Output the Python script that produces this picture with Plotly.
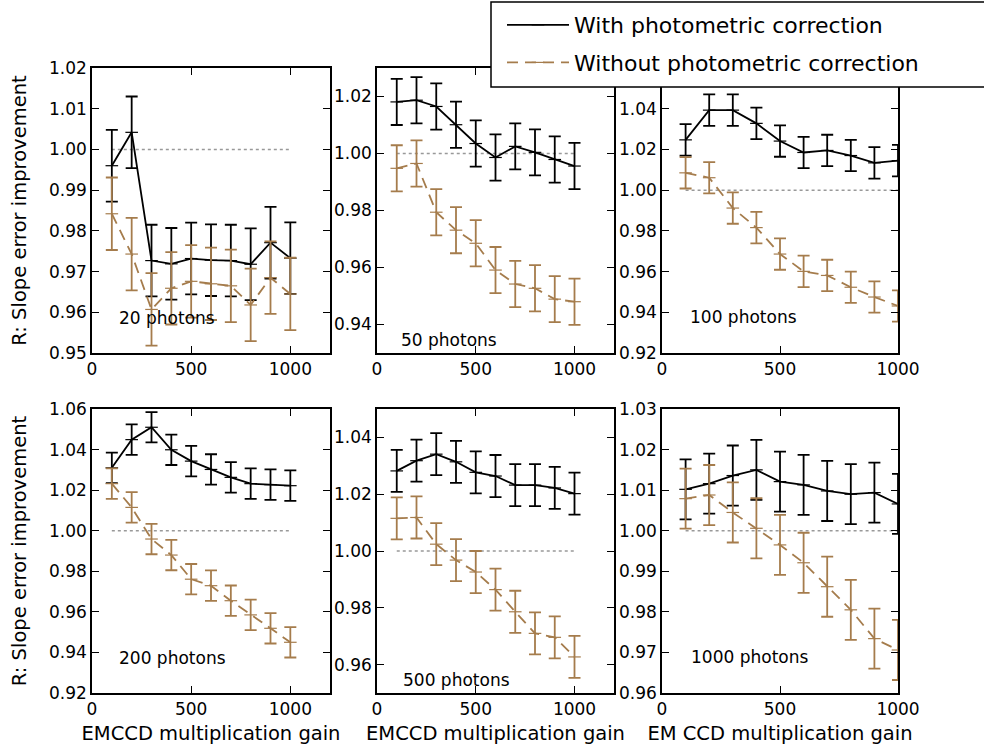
import plotly.graph_objects as go

# ---------------- data ----------------
gain = [100, 200, 300, 400, 500, 600, 700, 800, 900, 1000]

with_20 = [0.9960, 1.0042, 0.9727, 0.9719, 0.9732, 0.9728, 0.9727, 0.9718, 0.9771, 0.9733]
without_20 = [0.9842, 0.9743, 0.9607, 0.9659, 0.9676, 0.9670, 0.9665, 0.9618, 0.9685, 0.9645]
err_with_20 = [0.0088] * 10
err_without_20 = [0.0089] * 10

with_50 = [1.0181, 1.0187, 1.0165, 1.0101, 1.0035, 0.9986, 1.0025, 1.0004, 0.9979, 0.9956]
without_50 = [0.9948, 0.9965, 0.9794, 0.9731, 0.9685, 0.9591, 0.9542, 0.9527, 0.9489, 0.9480]
err_with_50 = [0.0081] * 10
err_without_50 = [0.0081] * 10

with_100 = [1.0247, 1.0393, 1.0393, 1.0328, 1.0241, 1.0185, 1.0195, 1.0170, 1.0134, 1.0145]
without_100 = [1.0085, 1.0061, 0.9912, 0.9816, 0.9686, 0.9601, 0.9581, 0.9523, 0.9475, 0.9431]
err_with_100 = [0.0077] * 10
err_without_100 = [0.0077] * 10

with_200 = [1.0310, 1.0449, 1.0510, 1.0399, 1.0343, 1.0302, 1.0263, 1.0232, 1.0227, 1.0222]
without_200 = [1.0232, 1.0115, 0.9959, 0.9880, 0.9761, 0.9729, 0.9655, 0.9585, 0.9519, 0.9450]
err_with_200 = [0.0075] * 10
err_without_200 = [0.0075] * 10

with_500 = [1.0282, 1.0318, 1.0341, 1.0314, 1.0277, 1.0264, 1.0232, 1.0232, 1.0222, 1.0202]
without_500 = [1.0115, 1.0118, 1.0024, 0.9968, 0.9926, 0.9864, 0.9786, 0.9710, 0.9696, 0.9627]
err_with_500 = [0.0074] * 10
err_without_500 = [0.0074] * 10

with_1000 = [1.0102, 1.0116, 1.0136, 1.0150, 1.0121, 1.0113, 1.0098, 1.0090, 1.0094, 1.0066]
without_1000 = [1.0079, 1.0088, 1.0045, 1.0006, 0.9965, 0.9921, 0.9862, 0.9805, 0.9734, 0.9706]
err_with_1000 = [0.0074] * 10
err_without_1000 = [0.0074] * 10

panel_labels = ["20 photons", "50 photons", "100 photons",
                "200 photons", "500 photons", "1000 photons"]
series_names = ["With photometric correction", "Without photometric correction"]

xticks = [0, 500, 1000]
yticks_20 = [0.95, 0.96, 0.97, 0.98, 0.99, 1.00, 1.01, 1.02]
yticks_50 = [0.94, 0.96, 0.98, 1.00, 1.02]
yticks_100 = [0.92, 0.94, 0.96, 0.98, 1.00, 1.02, 1.04]
yticks_200 = [0.92, 0.94, 0.96, 0.98, 1.00, 1.02, 1.04, 1.06]
yticks_500 = [0.96, 0.98, 1.00, 1.02, 1.04]
yticks_1000 = [0.96, 0.97, 0.98, 0.99, 1.00, 1.01, 1.02, 1.03]

# ---------------- style / layout ----------------
W, H = 984, 747
FONT = "DejaVu Sans"
BLACK = "#000000"
BROWN = "#A57C4C"

with_all = [with_20, with_50, with_100, with_200, with_500, with_1000]
without_all = [without_20, without_50, without_100, without_200, without_500, without_1000]
ew_all = [err_with_20, err_with_50, err_with_100, err_with_200, err_with_500, err_with_1000]
eo_all = [err_without_20, err_without_50, err_without_100, err_without_200, err_without_500, err_without_1000]
yticks_all = [yticks_20, yticks_50, yticks_100, yticks_200, yticks_500, yticks_1000]

xdom_px = [(92, 330), (377, 614), (662, 898)]
ydom_px = [(68, 353), (409, 693)]
xranges = [[0, 1200], [0, 1200], [0, 1000], [0, 1200], [0, 1200], [0, 1000]]
yranges = [[0.95, 1.02], [0.93, 1.03], [0.92, 1.06], [0.92, 1.06], [0.95, 1.05], [0.96, 1.03]]
label_pos = [(126, 0.9586), (111, 0.9346), (110, 0.9377), (126, 0.9374), (120, 0.9546), (114, 0.9689)]
xtitles = [None, None, None, "EMCCD multiplication gain", "EMCCD multiplication gain",
           "EM CCD multiplication gain"]

fig = go.Figure()
layout = dict(
    width=W, height=H, margin=dict(l=0, r=0, t=0, b=0, autoexpand=False),
    paper_bgcolor="white", plot_bgcolor="white",
    font=dict(family=FONT, size=17, color="black"),
    showlegend=True,
)
annotations = []

for i in range(6):
    r, c = divmod(i, 3)
    sfx = "" if i == 0 else str(i + 1)
    xa, ya = "x" + sfx, "y" + sfx
    x0, x1 = xdom_px[c]
    y0, y1 = ydom_px[r]
    axis_common = dict(showline=True, linecolor="black", linewidth=1.5, mirror="ticks",
                       ticks="inside", ticklen=7, tickwidth=1.2, tickcolor="black",
                       showgrid=False, zeroline=False, automargin=False,
                       tickfont=dict(family=FONT, size=17, color="black"))
    xax = dict(axis_common, domain=[x0 / W, x1 / W], range=xranges[i], anchor=ya,
               tickvals=xticks)
    if xtitles[i]:
        xax["title"] = dict(text=xtitles[i], font=dict(family=FONT, size=19.5), standoff=8)
    yax = dict(axis_common, domain=[1 - y1 / H, 1 - y0 / H], range=yranges[i], anchor=xa,
               tickvals=yticks_all[i], tickformat=".2f")
    if c == 0:
        yax["title"] = dict(text="R: Slope error improvement",
                            font=dict(family=FONT, size=19.5), standoff=17)
    layout["xaxis" + sfx] = xax
    layout["yaxis" + sfx] = yax

    # reference line at R = 1
    fig.add_trace(go.Scatter(x=[gain[0], gain[-1]], y=[1.0, 1.0], mode="lines",
                             line=dict(color="#999999", width=1.5, dash="dot"),
                             xaxis=xa, yaxis=ya, showlegend=False, hoverinfo="skip"))
    fig.add_trace(go.Scatter(
        x=gain, y=with_all[i], mode="lines+markers",
        name=series_names[0], legendgroup="a", showlegend=(i == 0),
        line=dict(color=BLACK, width=1.8),
        marker=dict(symbol="line-ew", size=9, line=dict(color=BLACK, width=1.2)),
        error_y=dict(type="data", array=ew_all[i], color=BLACK, thickness=1.8, width=6),
        xaxis=xa, yaxis=ya))
    fig.add_trace(go.Scatter(
        x=gain, y=without_all[i], mode="lines+markers",
        name=series_names[1], legendgroup="b", showlegend=(i == 0),
        line=dict(color=BROWN, width=1.8, dash="11px,7px"),
        marker=dict(symbol="line-ew", size=9, line=dict(color=BROWN, width=1.2)),
        error_y=dict(type="data", array=eo_all[i], color=BROWN, thickness=1.8, width=6),
        xaxis=xa, yaxis=ya))

    lx, ly = label_pos[i]
    annotations.append(dict(text=panel_labels[i], x=lx, y=ly, xref=xa, yref=ya,
                            xanchor="left", yanchor="middle", showarrow=False,
                            font=dict(family=FONT, size=17, color="black")))

layout["annotations"] = annotations
layout["shapes"] = [dict(type="rect", xref="paper", yref="paper", layer="above",
                         x0=491 / W, x1=1.01, y0=1 - 87 / H, y1=1 - 2 / H,
                         fillcolor="white", line=dict(color="black", width=1.5))]
layout["legend"] = dict(x=502 / W, y=1 - 4 / H, xanchor="left", yanchor="top",
                        bgcolor="rgba(0,0,0,0)", borderwidth=0,
                        font=dict(family=FONT, size=22, color="black"),
                        itemwidth=62, traceorder="grouped", tracegroupgap=6)
fig.update_layout(**layout)
fig.write_html("out.html", config={"displayModeBar": False},
               post_script="document.body.style.margin='0';")
